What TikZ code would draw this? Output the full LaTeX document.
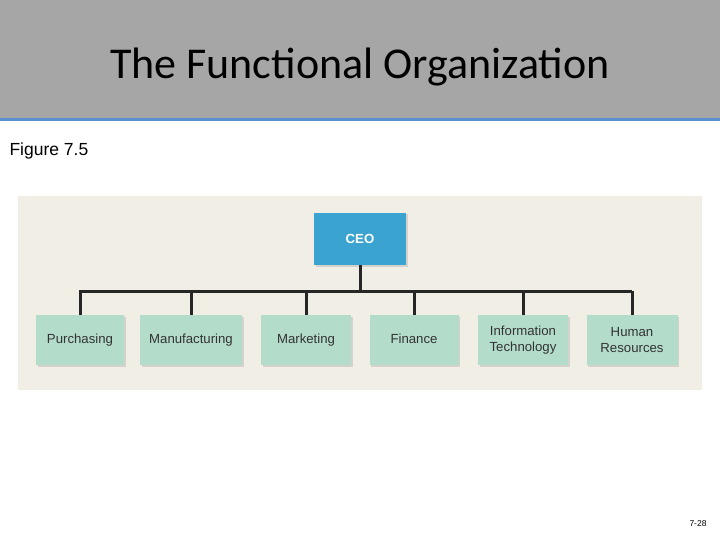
\documentclass[tikz,border=0pt]{standalone}
\usetikzlibrary{shadows}
\usepackage{fontspec}
\setmainfont{Liberation Sans}
\newfontfamily\titlefont{Carlito}
\definecolor{hdr}{HTML}{A6A6A6}
\definecolor{hline}{HTML}{5B8FD0}
\definecolor{panel}{HTML}{F1EEE6}
\definecolor{ceoc}{HTML}{3BA3D0}
\definecolor{boxc}{HTML}{B3DCCB}
\begin{document}
\begin{tikzpicture}[x=1pt,y=-1pt,
  dept/.style={fill=boxc,minimum width=88pt,minimum height=50pt,inner sep=0pt,align=center,font=\fontsize{13.2}{16}\selectfont,text=black!80,drop shadow={shadow xshift=1.5pt,shadow yshift=-1.5pt,opacity=.25}},
  conn/.style={line width=3pt,black!85}]
\useasboundingbox (0,0) rectangle (720,540);
\fill[white] (0,0) rectangle (720,540);
\fill[hdr] (0,0) rectangle (720,118);
\fill[hline] (0,118) rectangle (720,121);
\node[font=\titlefont\fontsize{44}{52}\selectfont] (title) at (360,67) {The Functional Organization};
\node[anchor=west,font=\fontsize{17.5}{20}\selectfont] (fig) at (6,151) {Figure 7.5};
\fill[panel] (18,196) rectangle (702,390);
\node[fill=ceoc,minimum width=92pt,minimum height=52pt,text=white,font=\bfseries\fontsize{13.2}{16}\selectfont,drop shadow={shadow xshift=1.5pt,shadow yshift=-1.5pt,opacity=.25}] (ceo) at (360,239) {CEO};
\coordinate (bl) at (79,291);
\coordinate (br) at (632,291);
\coordinate (bc) at (360,291);
\node[dept] (p) at (80,340) {Purchasing};
\node[dept,minimum width=102pt] (m) at (191,340) {Manufacturing};
\node[dept,minimum width=90pt] (mk) at (306,340) {Marketing};
\node[dept,minimum width=89pt] (f) at (414,340) {Finance\vphantom{g}};
\node[dept,minimum width=90pt] (it) at (523,340) {Information\\Technology};
\node[dept,minimum width=91pt] (hr) at (632,340) {Human\\Resources};
\draw[conn] (ceo.south) -- (bc);
\draw[conn] (bl) -- (br);
\foreach \n in {p,m,mk,f,it,hr} \draw[conn] (\n.north |- bc) -- (\n.north);
\node[font=\fontsize{8.5}{10}\selectfont] (pg) at (698,524) {7-28};
\end{tikzpicture}
\end{document}
